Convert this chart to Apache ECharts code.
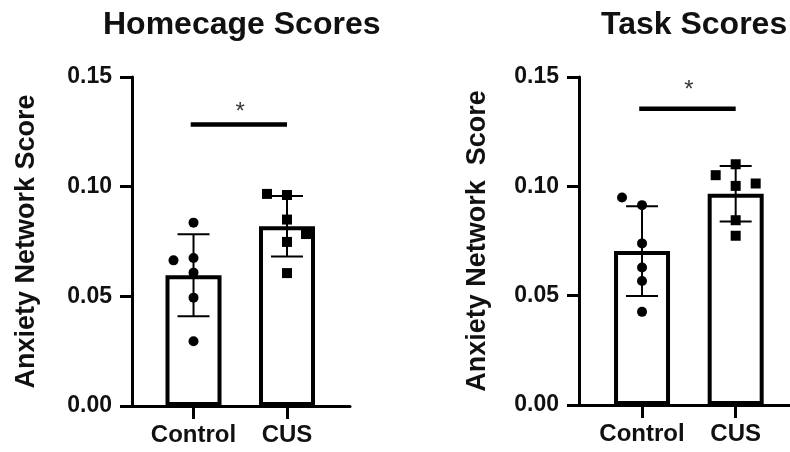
<!DOCTYPE html>
<html>
<head>
<meta charset="utf-8">
<script src="https://cdn.jsdelivr.net/npm/echarts@6/dist/echarts.min.js"></script>
<style>
  html, body { margin: 0; padding: 0; background: #fff; }
  #chart { width: 790px; height: 452px; }
</style>
</head>
<body>
<div id="chart"></div>
<script>
// groups shown on each x axis
const groups = ["Control", "CUS"];

// individual animals
const homeControl = [0.0836, 0.0664, 0.0675, 0.0608, 0.0494, 0.0295];
const homeCus = [0.0967, 0.0962, 0.0850, 0.0784, 0.0748, 0.0606];
const taskControl = [0.0949, 0.0914, 0.0739, 0.0629, 0.0567, 0.0426];
const taskCus = [0.1101, 0.1051, 0.1013, 0.1002, 0.0845, 0.0774];

// bar heights (mean) and error bars (SD)
const homeMean = [0.0596, 0.0820];
const homeSd = [0.0187, 0.0138];
const taskMean = [0.0704, 0.0966];
const taskSd = [0.0205, 0.0127];

// significance bars and their stars
const homeSig = 0.1284;
const homeStar = 0.1363;
const taskSig = 0.1355;
const taskStar = 0.1462;
const sigLabel = "*";

// horizontal jitter of the dots, px
const homeControlJit = [0, -20, 0, 0, 0, 0];
const homeCusJit = [-20, 0, 0, 19, 0, 0];
const taskControlJit = [-20, 0, 0, 0, 0, 0];
const taskCusJit = [0, -20, 20, 0, 0, 0];

const FONT = "Liberation Sans, Arial, sans-serif";
const INK = "#000";

const chart = echarts.init(document.getElementById("chart"), null, { renderer: "canvas" });

function xAxisFor(idx, min, max) {
  return {
    type: "value", gridIndex: idx, min: min, max: max,
    splitLine: { show: false },
    axisLine: { show: true, lineStyle: { color: INK, width: 3 } },
    axisTick: { show: true, customValues: [0, 1], length: 13, lineStyle: { color: INK, width: 3 } },
    axisLabel: {
      customValues: [0, 1], margin: 17,
      formatter: (v) => groups[Math.round(v)],
      fontFamily: FONT, fontWeight: "bold", fontSize: 24, color: "#111"
    }
  };
}

function yAxisFor(idx, name, gap) {
  return {
    type: "value", gridIndex: idx, min: 0, max: 0.15, interval: 0.05,
    name: name, nameLocation: "middle", nameRotate: 90, nameGap: gap,
    nameTextStyle: { fontFamily: FONT, fontWeight: "bold", fontSize: 27, color: "#111" },
    splitLine: { show: false },
    axisLine: { show: true, onZero: false, lineStyle: { color: INK, width: 3 } },
    axisTick: { show: true, length: 12, lineStyle: { color: INK, width: 3 } },
    axisLabel: {
      margin: 20, formatter: (v) => v.toFixed(2),
      fontFamily: FONT, fontWeight: "bold", fontSize: 23, color: "#111"
    }
  };
}

function errorSeries(idx, means, sds) {
  return {
    type: "custom", xAxisIndex: idx, yAxisIndex: idx, z: 5,
    data: means.map((m, i) => [i, m - sds[i], m + sds[i]]),
    renderItem: (params, api) => {
      const lo = api.coord([api.value(0), api.value(1)]);
      const hi = api.coord([api.value(0), api.value(2)]);
      const half = 16;
      const style = { stroke: INK, lineWidth: 2 };
      return {
        type: "group",
        children: [
          { type: "line", shape: { x1: lo[0], y1: lo[1], x2: hi[0], y2: hi[1] }, style: style },
          { type: "line", shape: { x1: lo[0] - half, y1: lo[1], x2: lo[0] + half, y2: lo[1] }, style: style },
          { type: "line", shape: { x1: hi[0] - half, y1: hi[1], x2: hi[0] + half, y2: hi[1] }, style: style }
        ]
      };
    }
  };
}

function dots(idx, x, vals, jit, symbol, size) {
  return {
    type: "scatter", xAxisIndex: idx, yAxisIndex: idx, z: 6,
    symbol: symbol, symbolSize: size,
    itemStyle: { color: INK, opacity: 1 },
    data: vals.map((v, i) => ({ value: [x, v], symbolOffset: [jit[i], 0] }))
  };
}

function panelSeries(idx, means, sds, ctrl, ctrlJit, cus, cusJit, sigY, starY) {
  return [
    {
      type: "bar", xAxisIndex: idx, yAxisIndex: idx, barWidth: 56, z: 2,
      itemStyle: { color: "#fff", borderColor: INK, borderWidth: 4 },
      data: means.map((m, i) => [i, m])
    },
    errorSeries(idx, means, sds),
    dots(idx, 0, ctrl, ctrlJit, "circle", 10),
    dots(idx, 1, cus, cusJit, "rect", 10),
    {
      type: "line", xAxisIndex: idx, yAxisIndex: idx, z: 4, symbol: "none",
      lineStyle: { color: INK, width: 4.5, cap: "butt" },
      data: [[-0.03, sigY], [1, sigY]]
    },
    {
      type: "scatter", xAxisIndex: idx, yAxisIndex: idx, symbolSize: 0,
      data: [[0.5, starY]],
      label: {
        show: true, position: "inside", offset: [0, 5], formatter: sigLabel,
        fontFamily: FONT, fontSize: 24, color: INK
      }
    }
  ];
}

chart.setOption({
  backgroundColor: "#fff",
  animation: false,
  title: [
    { text: "Homecage Scores", left: 98, top: 4,
      textStyle: { fontFamily: FONT, fontWeight: "bold", fontSize: 32, color: "#111" } },
    { text: "Task Scores", left: 596, top: 4,
      textStyle: { fontFamily: FONT, fontWeight: "bold", fontSize: 32, color: "#111" } }
  ],
  grid: [
    { left: 132, top: 77, width: 218, height: 329 },
    { left: 579, top: 77, width: 211, height: 328 }
  ],
  xAxis: [xAxisFor(0, -0.658, 1.674), xAxisFor(1, -0.673, 1.58)],
  yAxis: [
    yAxisFor(0, "Anxiety Network Score", 92),
    yAxisFor(1, "Anxiety Network  Score", 88)
  ],
  series: [].concat(
    panelSeries(0, homeMean, homeSd, homeControl, homeControlJit, homeCus, homeCusJit, homeSig, homeStar),
    panelSeries(1, taskMean, taskSd, taskControl, taskControlJit, taskCus, taskCusJit, taskSig, taskStar)
  )
});
</script>
</body>
</html>
